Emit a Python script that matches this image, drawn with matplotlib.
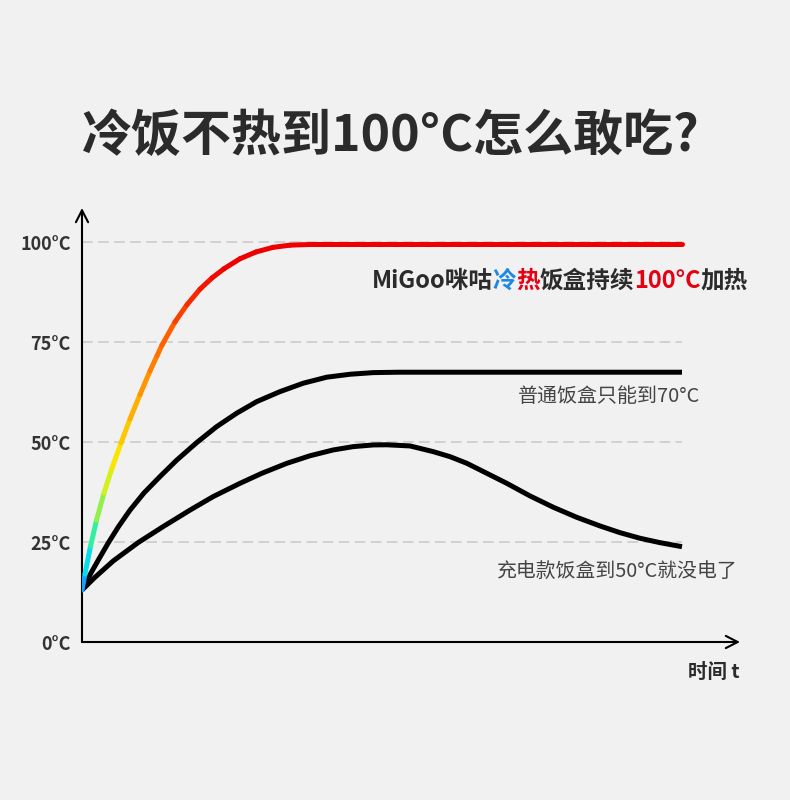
import matplotlib
matplotlib.use("Agg")
import matplotlib.pyplot as plt
from matplotlib.collections import LineCollection
from matplotlib.colors import LinearSegmentedColormap, Normalize
from matplotlib.offsetbox import TextArea, HPacker, AnnotationBbox

plt.rcParams['font.family'] = ['Noto Sans CJK SC', 'DejaVu Sans']

# time in arbitrary units (100 = where the curves stop), temperature in °C
migoo_t = [0, 0.5, 1.42, 2.42, 3.67, 5.0, 6.5, 8.0, 9.67, 11.33, 12.5, 13.33, 15.5, 17.5,
           19.67, 21.67, 23.67, 26.33, 29.0, 31.83, 34.67, 38.0, 100]
migoo_temp = [13.0, 17.0, 24.0, 30.5, 37.3, 43.5, 49.8, 55.8, 61.9, 67.8, 71.6, 74.3, 80.1, 84.4,
              88.3, 91.1, 93.4, 95.9, 97.6, 98.75, 99.3, 99.47, 99.47]

normal_t = [0, 1.62, 2.83, 4.38, 6.05, 8.0, 10.33, 13.0, 15.78, 19.12, 22.45, 25.78, 29.12,
            33.0, 36.88, 40.78, 44.67, 48.55, 53.0, 100]
normal_temp = [13.0, 17.6, 20.8, 24.8, 28.8, 33.0, 37.3, 41.4, 45.5, 49.9, 53.9, 57.25, 60.15,
               62.65, 64.76, 66.26, 67.0, 67.41, 67.51, 67.51]

battery_t = [0, 2.17, 5.22, 9.38, 13.55, 18.0, 21.88, 26.33, 29.95, 34.12, 38.0, 41.88, 45.22,
             48.55, 50.78, 54.67, 58.55, 61.33, 64.12, 67.45, 70.78, 74.67, 78.55, 82.45,
             86.33, 89.67, 93.0, 96.33, 100]
battery_temp = [13.0, 16.2, 20.3, 24.9, 28.9, 33.0, 36.4, 39.7, 42.2, 44.7, 46.6, 48.06, 48.89,
                49.31, 49.35, 49.06, 47.63, 46.38, 44.73, 42.23, 39.72, 36.55, 33.72, 31.21,
                29.04, 27.36, 25.96, 24.86, 23.85]

y_ticks = [0, 25, 50, 75, 100]
y_labels = ['0°C', '25°C', '50°C', '75°C', '100°C']
grid_levels = [25, 50, 75, 100]

title = '冷饭不热到100°C怎么敢吃?'
x_label = '时间 t'
normal_note = '普通饭盒只能到70°C'
battery_note = '充电款饭盒到50°C就没电了'
migoo_note = [('MiGoo咪咕', '#2b2b2b'), ('冷', '#1e88e5'), ('热', '#e60012'),
              ('饭盒持续', '#2b2b2b'), ('100°C', '#e60012'), ('加热', '#2b2b2b')]

bg = '#f1f1f1'
dark = '#2b2b2b'
fam = ['Noto Sans CJK SC', 'DejaVu Sans']

# colour ramp for the MiGoo curve, by temperature
ramp = LinearSegmentedColormap.from_list('heat', [
    (0.00, '#1a8cff'), (0.07, '#00d8f8'), (0.16, '#30f0a0'), (0.25, '#a0f040'),
    (0.36, '#f8f000'), (0.48, '#ffc000'), (0.61, '#ff9000'), (0.75, '#ff5a00'),
    (0.86, '#f42000'), (0.94, '#ee0000'), (1.00, '#ee0000')])

fig = plt.figure(figsize=(7.9, 8), dpi=100, facecolor=bg)
ax = fig.add_axes([82 / 790, 158 / 800, 658 / 790, 434 / 800])
ax.set_facecolor(bg)
ax.set_xlim(0, 109.67)
ax.set_ylim(0, 108.6)
for s in ax.spines.values():
    s.set_visible(False)

# dashed guide lines
ax.hlines(grid_levels, 0, 100, colors='#c8c8c8', linewidth=1.1, linestyles=(0, (7, 3.5)), zorder=1)

# axes with arrow heads
arrow = dict(arrowstyle='->,head_length=0.43,head_width=0.22', lw=1.5, color='black',
             mutation_scale=20, shrinkA=0, shrinkB=0)
ax.annotate('', xy=(1, 0), xytext=(0, 0), xycoords='axes fraction', arrowprops=arrow)
ax.annotate('', xy=(0, 1), xytext=(0, 0), xycoords='axes fraction', arrowprops=arrow)

# curves
ax.plot(normal_t, normal_temp, color='black', lw=3.6, solid_capstyle='butt', solid_joinstyle='round', zorder=3)
ax.plot(battery_t, battery_temp, color='black', lw=3.6, solid_capstyle='butt', solid_joinstyle='round', zorder=3)

segs = [[(migoo_t[i], migoo_temp[i]), (migoo_t[i + 1], migoo_temp[i + 1])] for i in range(len(migoo_t) - 1)]
mids = [(migoo_temp[i] + migoo_temp[i + 1]) / 2 for i in range(len(migoo_t) - 1)]
lc = LineCollection(segs, cmap=ramp, norm=Normalize(13.0, 100), linewidths=3.6, capstyle='round', zorder=4)
lc.set_array(mids)
ax.add_collection(lc)

ax.set_xticks([])
ax.set_yticks(y_ticks, y_labels)
ax.tick_params(axis='y', length=0, pad=8, labelsize=13, labelcolor='#333333')
plt.setp(ax.get_yticklabels(), fontweight='bold')

# texts (positions in pixels of the 790x800 picture)
def px(x, y):
    return x / 790, 1 - y / 800

fig.text(*px(391, 137), title, ha='center', va='center', fontsize=36, fontweight='bold', color=dark)
fig.text(*px(700, 396), normal_note, ha='right', va='center', fontsize=14.4, color='#444444')
fig.text(*px(738, 571), battery_note, ha='right', va='center', fontsize=14.3, color='#444444')
fig.text(*px(740, 672), x_label, ha='right', va='center', fontsize=14, fontweight='bold', color=dark)

parts = [TextArea(t, textprops=dict(color=c, fontsize=17, fontweight='bold', family=fam)) for t, c in migoo_note]
box = HPacker(children=parts, align='baseline', pad=0, sep=0)
ab = AnnotationBbox(box, px(748, 281), xycoords='figure fraction', box_alignment=(1, 0.5),
                    frameon=False, pad=0)
fig.add_artist(ab)

fig.savefig('out.png', dpi=100, facecolor=bg)
